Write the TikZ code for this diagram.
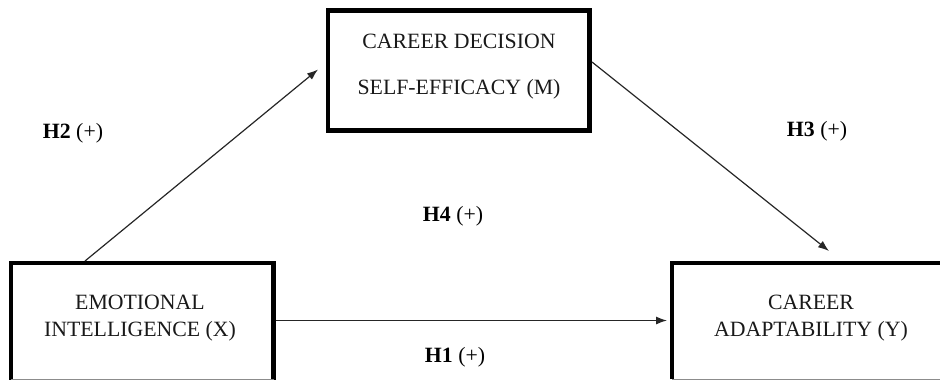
\documentclass[tikz,border=0pt]{standalone}
\usepackage{fontspec}
\setmainfont{Liberation Serif}
\usetikzlibrary{arrows.meta}
\begin{document}
\begin{tikzpicture}[x=1pt,y=-1pt,
  boxline/.style={line width=4.5pt, line join=miter},
  thinbottom/.style={line width=1pt, draw=black!45},
  frame/.style={draw=none, inner sep=0pt, outer sep=0pt},
  arr/.style={line width=1.2pt, draw=black!85, -{Latex[length=11pt,width=8pt]}},
  lab/.style={font=\fontsize{21.8}{26}\selectfont, inner sep=0pt, anchor=base},
  txt/.style={align=center, inner sep=0pt, anchor=north, text=black!90},
  ]
\useasboundingbox (0,0) rectangle (940,381);
% boxes
\node[frame, draw, boxline, minimum width=261.5pt, minimum height=120pt] (M) at (458.75,70.5) {};
\node[frame, minimum width=262.5pt, minimum height=116.5pt] (X) at (142.25,321.25) {};
\node[frame, minimum width=318pt, minimum height=116pt] (Y) at (831,321) {};
\draw[boxline] (X.south west) -- (X.north west) -- (X.north east) -- (X.south east);
\draw[thinbottom] (X.south west) -- (X.south east);
\draw[boxline] (Y.south west) -- (Y.north west) -- (Y.north east);
\draw[thinbottom] (Y.south west) -- (Y.south east);
% texts
\node[txt, font=\fontsize{21.8}{46.5}\selectfont] (Mt) at (459,33.8) {CAREER DECISION\\SELF-EFFICACY (M)};
\node[txt, font=\fontsize{21.8}{27.5}\selectfont] (Xt) at (140,294.8) {EMOTIONAL\\INTELLIGENCE (X)};
\node[txt, font=\fontsize{21.8}{27}\selectfont] (Yt) at (811,295.3) {CAREER\\ADAPTABILITY (Y)};
% labels
\node[lab] (h2) at (73,138) {\textbf{H2} (+)};
\node[lab] (h3) at (817,136.5) {\textbf{H3} (+)};
\node[lab] (h4) at (453,221.4) {\textbf{H4} (+)};
\node[lab] (h1) at (455,362) {\textbf{H1} (+)};
% connector ends
\coordinate (a2s) at (85,261);
\coordinate (a2e) at (318,69.5);
\coordinate (a3s) at (592,62);
\coordinate (a3e) at (829,251);
\coordinate (a1s) at (275.5,320.5);
\coordinate (a1e) at (667,320.5);
\draw[arr] (a2s) -- (a2e);
\draw[arr] (a3s) -- (a3e);
\draw[arr] (a1s) -- (a1e);
\end{tikzpicture}
\end{document}
